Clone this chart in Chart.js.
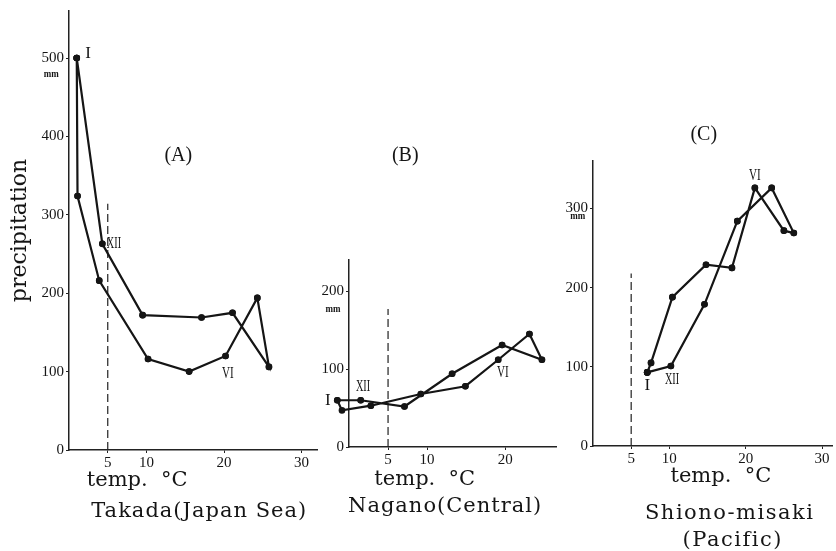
<!DOCTYPE html>
<html>
<head>
<meta charset="utf-8">
<script src="https://cdn.jsdelivr.net/npm/chart.js@4.4.0/dist/chart.umd.min.js"></script>
<style>
  body { margin: 0; background: #fff; }
  #wrap { position: relative; width: 836px; height: 551px; overflow: hidden; background: #fff; }
  canvas { position: absolute; top: 0; }
</style>
</head>
<body>
<div id="wrap">
  <canvas id="chartA" width="330" height="551" style="left:0px"></canvas>
  <canvas id="chartB" width="260" height="551" style="left:300px"></canvas>
  <canvas id="chartC" width="291" height="551" style="left:545px"></canvas>
</div>
<script>
"use strict";

// months I..XII, mean temperature (°C) and precipitation (mm)
const months = ["I", "II", "III", "IV", "V", "VI", "VII", "VIII", "IX", "X", "XI", "XII"];

const takadaTemp = [1.0, 1.1, 3.9, 10.2, 15.5, 20.2, 24.3, 25.8, 21.1, 17.1, 9.5, 4.3];
const takadaRain = [500, 324, 216, 116, 100, 120, 194, 106, 175, 169, 172, 263];

const naganoTemp = [-1.5, -0.9, 2.8, 9.2, 14.9, 19.1, 23.1, 24.7, 19.6, 13.2, 7.1, 1.5];
const naganoRain = [60, 47, 53, 68, 78, 112, 145, 112, 131, 94, 52, 60];

const shionoTemp = [7.1, 7.6, 10.4, 14.8, 18.2, 21.2, 25.0, 26.3, 23.4, 18.9, 14.6, 10.2];
const shionoRain = [93, 105, 188, 229, 225, 326, 272, 269, 326, 284, 179, 101];

// 5 °C reference line and how high it is drawn in each panel
const frostTemp = 5;
const takadaDashTop = 314;
const naganoDashTop = 177;
const shionoDashTop = 218;

// tick labels
const takadaTempTicks = [5, 10, 20, 30];
const naganoTempTicks = [5, 10, 20];
const shionoTempTicks = [5, 10, 20, 30];
const takadaRainTicks = [0, 100, 200, 300, 400, 500];
const naganoRainTicks = [0, 100, 200];
const shionoRainTicks = [0, 100, 200, 300];

const serif = '"Liberation Serif", "Times New Roman", serif';
const titleSerif = '"DejaVu Serif", serif';
const ink = "#151515";

// text placed with the chart scales (x = °C, y = mm)
function notesPlugin(items) {
  return {
    id: "notes",
    afterDatasetsDraw(chart) {
      // points left of the y axis (Nagano, I and II) are skipped by chart.js,
      // so draw the dots again without the chart area limit
      const full = { left: 0, top: 0, right: chart.width, bottom: chart.height };
      chart.getDatasetMeta(0).data.forEach((pt) => pt.draw(chart.ctx, full));
    },
    afterDraw(chart) {
      const { ctx, scales } = chart;
      ctx.save();
      ctx.fillStyle = ink;
      ctx.textAlign = "center";
      ctx.textBaseline = "middle";
      items.forEach((n) => {
        ctx.font = n.font;
        ctx.letterSpacing = n.ls || "0px";
        const px = scales.x.getPixelForValue(n.x);
        const py = scales.y.getPixelForValue(n.y);
        ctx.save();
        ctx.translate(px, py);
        ctx.scale(n.sx || 1, 1);
        ctx.fillText(n.text, 0, 0);
        ctx.restore();
      });
      ctx.restore();
    },
  };
}

function makeChart(id, cfg) {
  const loop = cfg.temp.map((t, i) => ({ x: t, y: cfg.rain[i] }));
  loop.push(loop[0]);

  const tickFont = { family: serif, size: 15 };

  return new Chart(document.getElementById(id), {
    type: "scatter",
    data: {
      datasets: [
        {
          label: "climograph",
          data: loop,
          showLine: true,
          borderColor: ink,
          borderWidth: 2.2,
          pointRadius: 3.3,
          pointBackgroundColor: ink,
          pointBorderWidth: 0,
          clip: false,
        },
        {
          label: "5°C",
          data: [{ x: frostTemp, y: 0 }, { x: frostTemp, y: cfg.dashTop }],
          showLine: true,
          borderColor: "#222",
          borderWidth: 1.2,
          borderDash: [8, 4],
          pointRadius: 0,
        },
      ],
    },
    options: {
      responsive: false,
      animation: false,
      layout: { padding: cfg.padding },
      plugins: { legend: { display: false }, tooltip: { enabled: false } },
      scales: {
        x: {
          type: "linear",
          min: cfg.xMin,
          max: cfg.xMax,
          afterBuildTicks: (s) => { s.ticks = cfg.xTicks.map((v) => ({ value: v })); },
          afterFit: (s) => { s.height = 40; },
          grid: { drawOnChartArea: false, tickLength: 3, color: "#222" },
          border: { color: "#222", width: 1.5 },
          ticks: { color: ink, font: tickFont, padding: 1, autoSkip: false, maxRotation: 0 },
        },
        y: {
          min: 0,
          max: cfg.yMax,
          afterBuildTicks: (s) => { s.ticks = cfg.yTicks.map((v) => ({ value: v })); },
          afterFit: (s) => { s.width = cfg.yWidth; },
          grid: { drawOnChartArea: false, tickLength: 3, color: "#222" },
          border: { color: "#222", width: 1.5 },
          ticks: { color: ink, font: tickFont, padding: 2 },
          title: {
            display: !!cfg.yTitle,
            text: cfg.yTitle || "",
            color: ink,
            font: { family: titleSerif, size: 22 },
            padding: { top: 0, bottom: 0 },
          },
        },
      },
    },
    plugins: [notesPlugin(cfg.notes)],
  });
}

const numFont = "17px " + serif;
const mmFont = "bold 10px " + serif;
const bigFont = "21px " + titleSerif;

makeChart("chartA", {
  temp: takadaTemp, rain: takadaRain, dashTop: takadaDashTop,
  xMin: 0, xMax: 32, yMax: 560, xTicks: takadaTempTicks, yTicks: takadaRainTicks,
  yWidth: 62, yTitle: "precipitation",
  padding: { left: 7, right: 13, top: 9, bottom: 61 },
  notes: [
    { text: "(A)", x: 14.1, y: 375, font: "20px " + serif },
    { text: "mm", x: -2.3, y: 479, font: mmFont, sx: 0.9 },
    { text: months[0], x: 2.45, y: 506, font: numFont },
    { text: months[11], x: 5.8, y: 264, font: numFont, sx: 0.6 },
    { text: months[5], x: 20.5, y: 98, font: numFont, sx: 0.65 },
    { text: "temp.  °C", x: 8.8, y: -39, font: bigFont },
    { text: "Takada(Japan Sea)", x: 16.8, y: -78, font: bigFont, ls: "1px" },
  ],
});

makeChart("chartB", {
  temp: naganoTemp, rain: naganoRain, dashTop: naganoDashTop,
  xMin: 0, xMax: 26.5, yMax: 240, xTicks: naganoTempTicks, yTicks: naganoRainTicks,
  yWidth: 40,
  padding: { left: 9, right: 4, top: 260, bottom: 64 },
  notes: [
    { text: "(B)", x: 7.2, y: 374, font: "20px " + serif },
    { text: "mm", x: -2.05, y: 176, font: mmFont, sx: 0.9 },
    { text: months[0], x: -2.7, y: 59, font: numFont },
    { text: months[11], x: 1.8, y: 77, font: numFont, sx: 0.6 },
    { text: months[5], x: 19.7, y: 95, font: numFont, sx: 0.65 },
    { text: "temp.  °C", x: 9.7, y: -42, font: bigFont },
    { text: "Nagano(Central)", x: 12.3, y: -77, font: bigFont, ls: "1px" },
  ],
});

makeChart("chartC", {
  temp: shionoTemp, rain: shionoRain, dashTop: shionoDashTop,
  xMin: 0, xMax: 31.3, yMax: 360, xTicks: shionoTempTicks, yTicks: shionoRainTicks,
  yWidth: 40,
  padding: { left: 8, right: 0, top: 161, bottom: 65 },
  notes: [
    { text: "(C)", x: 14.5, y: 393, font: "20px " + serif },
    { text: "mm", x: -2.0, y: 290, font: mmFont, sx: 0.9 },
    { text: months[0], x: 7.13, y: 77, font: numFont },
    { text: months[11], x: 10.35, y: 84, font: numFont, sx: 0.6 },
    { text: months[5], x: 21.2, y: 342, font: numFont, sx: 0.65 },
    { text: "temp.  °C", x: 16.75, y: -39, font: bigFont },
    { text: "Shiono-misaki", x: 17.9, y: -85, font: bigFont, ls: "1.5px" },
    { text: "(Pacific)", x: 18.3, y: -120, font: bigFont, ls: "1.5px" },
  ],
});
</script>
</body>
</html>
